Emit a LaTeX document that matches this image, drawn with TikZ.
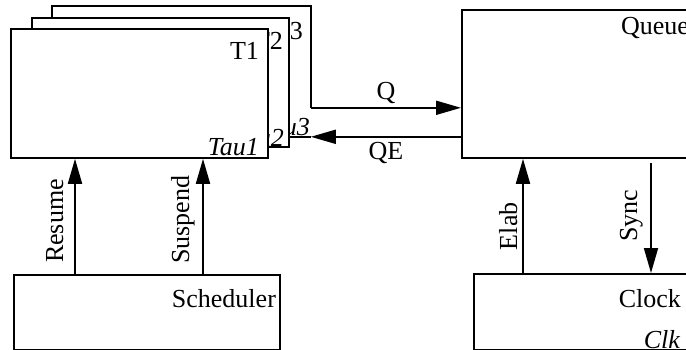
\documentclass[tikz,border=0pt]{standalone}
\usepackage{fontspec}
\setmainfont{Liberation Serif}
\usetikzlibrary{arrows.meta}

\begin{document}
\begin{tikzpicture}[x=1pt,y=-1pt,>={Triangle[length=25pt,width=14pt]},line width=1.8pt,
  font=\fontsize{26}{30}\selectfont,
  box/.style={draw,fill=white,inner sep=0pt,anchor=north west},
  lbl/.style={inner sep=0pt,anchor=base east},
  sig/.style={inner sep=0pt,text depth=0pt}]
\useasboundingbox (0,0) rectangle (686,350);
\clip (0,0) rectangle (686,350);
\node[box,draw=none,minimum width=257pt,minimum height=129pt] (tau3) at (52,6) {};
\coordinate (q0) at ([yshift=29pt]tau3.south east);
\draw (q0) |- (tau3.north west) -- (tau3.south west) -- (tau3.south east);
\node[lbl] at ([xshift=-7pt,yshift=-34pt]tau3.north east) {T3};
\node[lbl] at ([yshift=1pt]tau3.south east) {\itshape Tau3};
\node[box,minimum width=257pt,minimum height=129pt] (tau2) at (31,17) {};
\node[lbl] at ([xshift=-6pt,yshift=-33pt]tau2.north east) {T2};
\node[lbl] at ([xshift=-5pt,yshift=1pt]tau2.south east) {\itshape Tau2};
\node[box,minimum width=257pt,minimum height=129pt] (tau1) at (10,28) {};
\node[lbl] at ([xshift=-9pt,yshift=-32pt]tau1.north east) {T1};
\node[lbl] at ([xshift=-9pt,yshift=3pt]tau1.south east) {\itshape Tau1};
\node[box,minimum width=240pt,minimum height=148pt] (queue) at (461,9) {};
\node[lbl] at ([xshift=-13pt,yshift=-26pt]queue.north east) {Queue};
\node[box,minimum width=266pt,minimum height=75pt] (sched) at (13,274) {};
\node[lbl] at ([xshift=-4pt,yshift=-33pt]sched.north east) {Scheduler};
\node[box,minimum width=217pt,minimum height=76pt] (clock) at (473,273) {};
\node[lbl] at ([xshift=-10pt,yshift=-34pt]clock.north east) {Clock};
\node[lbl] at ([xshift=-11pt,yshift=2pt]clock.south east) {\itshape Clk};
\draw[->] (q0) -- (q0 -| queue.west) node[midway,sig,anchor=base,yshift=8pt] {Q};
\draw[->] (queue.west |- tau3.south east) -- (tau3.south east) node[midway,sig,anchor=base,yshift=-23pt] {QE};
\draw[->] ([xshift=62pt]sched.north west) coordinate (r0) -- (r0 |- tau1.south) node[pos=0.46,sloped,sig,above=11pt] {Resume};
\draw[->] ([xshift=190pt]sched.north west) coordinate (s0) -- (s0 |- tau1.south) node[pos=0.47,sloped,sig,above=13pt] {Suspend};
\draw[->] ([xshift=50pt]clock.north west) coordinate (e0) -- (e0 |- queue.south) node[pos=0.41,sloped,sig,above=5pt] {Elab};
\coordinate (c0) at ([xshift=190pt,yshift=-4pt]queue.south west);
\draw[<-] (c0 |- clock.north) -- (c0) node[pos=0.52,sloped,sig,above=13pt] {Sync};
\end{tikzpicture}
\end{document}
